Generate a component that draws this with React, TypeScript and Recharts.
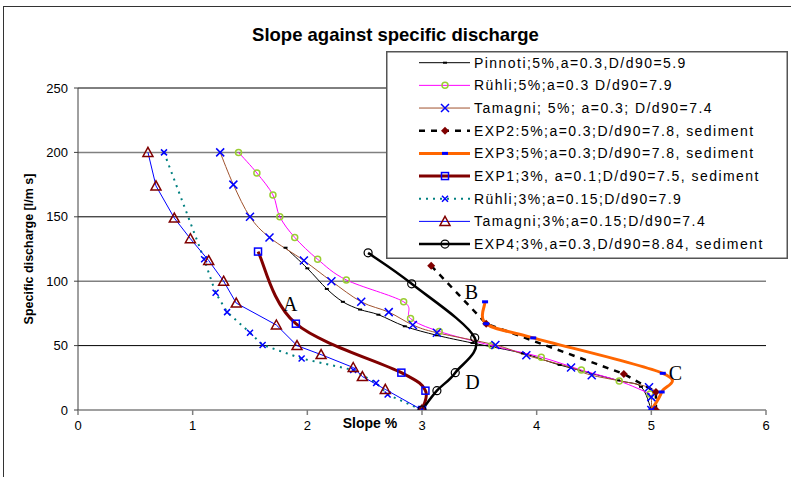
import React from "react";
import { LineChart, Line, XAxis, YAxis, ReferenceLine, ReferenceDot, Legend } from "recharts";

// slope % / specific discharge pairs
const pinnoti5 = [[1.81, 126], [2.0, 110], [2.17, 94], [2.31, 84], [2.46, 78], [2.62, 74], [2.85, 65], [3.13, 58], [3.44, 52], [3.88, 44], [4.2, 35], [4.71, 23], [4.91, 18], [5.0, 0]];
const ruhli5 = [[1.4, 200], [1.56, 184], [1.7, 167], [1.76, 150], [1.89, 134], [2.09, 117], [2.34, 101], [2.84, 84], [2.9, 71], [3.15, 61], [3.61, 50], [4.04, 41], [4.39, 31], [4.72, 22.5], [4.99, 12.5]];
const tamagni5 = [[1.24, 200], [1.355, 175], [1.5, 150], [1.67, 134], [1.97, 116], [2.21, 100], [2.47, 84], [2.71, 76], [2.92, 66], [3.13, 60], [3.64, 50.5], [3.91, 42.5], [4.3, 33], [4.48, 27], [4.98, 17.6], [5.0, 10], [5.0, 0]];
const exp2 = [[3.08, 112], [3.56, 67], [4.76, 28], [5.04, 14], [5.04, 0]];
const exp3 = [[3.55, 84], [3.56, 67], [3.97, 56], [5.1, 28.5], [5.09, 14], [5.0, 0]];
const exp1 = [[1.57, 123], [1.9, 67], [2.82, 29], [3.03, 15], [3.0, 0]];
const ruhli3 = [[0.75, 200], [1.1, 117], [1.2, 91], [1.3, 76], [1.5, 60], [1.61, 50.5], [1.95, 40], [2.4, 31], [2.6, 21], [2.7, 12], [3.0, 0]];
const tamagni3 = [[0.61, 200], [0.68, 174], [0.84, 149], [0.98, 133], [1.14, 116], [1.27, 100], [1.38, 83], [1.73, 66], [1.91, 50], [2.12, 43], [2.4, 33], [2.48, 26], [2.68, 16], [3.0, 0]];
const exp4 = [[2.53, 122], [2.91, 98], [3.46, 56], [3.29, 29], [3.13, 15], [3.0, 0]];

const xTicks = [0, 1, 2, 3, 4, 5, 6];
const yTicks = [0, 50, 100, 150, 200, 250];
const gridValues = [50, 100, 150, 200, 250];

// annotation letters [label, slope, discharge]
const notes: [string, number, number][] = [["A", 1.85, 82], ["B", 3.43, 92], ["C", 5.21, 29], ["D", 3.44, 22]];

const toPts = (arr: number[][]) => arr.map(([x, y]) => ({ x, y }));

// Excel-like smoothing: uniform Catmull-Rom written as cubic beziers
function smoothCurve(context: any) {
  let pts: [number, number][] = [];
  return {
    areaStart() {},
    areaEnd() {},
    lineStart() {
      pts = [];
    },
    lineEnd() {
      const n = pts.length;
      if (!n) return;
      context.moveTo(pts[0][0], pts[0][1]);
      for (let i = 0; i < n - 1; i++) {
        const p0 = pts[Math.max(0, i - 1)];
        const p1 = pts[i];
        const p2 = pts[i + 1];
        const p3 = pts[Math.min(n - 1, i + 2)];
        context.bezierCurveTo(
          p1[0] + (p2[0] - p0[0]) / 6,
          p1[1] + (p2[1] - p0[1]) / 6,
          p2[0] - (p3[0] - p1[0]) / 6,
          p2[1] - (p3[1] - p1[1]) / 6,
          p2[0],
          p2[1]
        );
      }
    },
    point(x: number, y: number) {
      pts.push([+x, +y]);
    },
  };
}

type Kind = "tick" | "ring" | "cross" | "diamond" | "bluedash" | "square" | "smallx" | "triangle" | "circle";

const series: { name: string; data: number[][]; color: string; width: number; dash?: string; smooth: boolean; marker: Kind }[] = [
  { name: "Pinnoti;5%,a=0.3,D/d90=5.9", data: pinnoti5, color: "#000000", width: 1, smooth: true, marker: "tick" },
  { name: "Rühli;5%;a=0.3 D/d90=7.9", data: ruhli5, color: "#ff00ff", width: 1, smooth: true, marker: "ring" },
  { name: "Tamagni; 5%; a=0.3; D/d90=7.4", data: tamagni5, color: "#a0522d", width: 1, smooth: true, marker: "cross" },
  { name: "EXP2:5%;a=0.3;D/d90=7.8, sediment", data: exp2, color: "#000000", width: 2.5, dash: "6 6", smooth: false, marker: "diamond" },
  { name: "EXP3;5%;a=0.3;D/d90=7.8, sediment", data: exp3, color: "#ff6600", width: 3, smooth: true, marker: "bluedash" },
  { name: "EXP1;3%, a=0.1;D/d90=7.5, sediment", data: exp1, color: "#800000", width: 3, smooth: true, marker: "square" },
  { name: "Rühli;3%;a=0.15;D/d90=7.9", data: ruhli3, color: "#008080", width: 2, dash: "2 5", smooth: false, marker: "smallx" },
  { name: "Tamagni;3%;a=0.15;D/d90=7.4", data: tamagni3, color: "#0000ff", width: 1, smooth: false, marker: "triangle" },
  { name: "EXP4;3%,a=0.3,D/d90=8.84, sediment", data: exp4, color: "#000000", width: 2.5, smooth: true, marker: "circle" },
];

const SANS = "'Liberation Sans', Arial, sans-serif";

function Marker({ kind, cx, cy }: { kind: Kind; cx: number; cy: number }) {
  if (cx == null || cy == null) return null;
  switch (kind) {
    case "tick":
      return <rect x={cx - 2} y={cy - 1} width={4} height={2} fill="#000" />;
    case "ring":
      return <circle cx={cx} cy={cy} r={3} fill="none" stroke="#9acd32" strokeWidth={1.5} />;
    case "cross":
      return <path d={`M${cx - 4},${cy - 4}L${cx + 4},${cy + 4}M${cx + 4},${cy - 4}L${cx - 4},${cy + 4}`} stroke="#0000ff" strokeWidth={1.5} />;
    case "diamond":
      return <path d={`M${cx},${cy - 4}L${cx + 4},${cy}L${cx},${cy + 4}L${cx - 4},${cy}Z`} fill="#800000" />;
    case "bluedash":
      return <rect x={cx - 3} y={cy - 1.5} width={6} height={3} fill="#0000ff" />;
    case "square":
      return <rect x={cx - 3.5} y={cy - 3.5} width={7} height={7} fill="none" stroke="#0000ff" strokeWidth={1.5} />;
    case "smallx":
      return <path d={`M${cx - 3},${cy - 3}L${cx + 3},${cy + 3}M${cx + 3},${cy - 3}L${cx - 3},${cy + 3}`} stroke="#0000ff" strokeWidth={1.5} />;
    case "triangle":
      return <path d={`M${cx},${cy - 5}L${cx + 5},${cy + 4}L${cx - 5},${cy + 4}Z`} fill="none" stroke="#800000" strokeWidth={1.5} />;
    case "circle":
      return <circle cx={cx} cy={cy} r={4} fill="none" stroke="#000" strokeWidth={1.2} />;
  }
  return null;
}

function LegendBox() {
  return (
    <svg width={402} height={208} style={{ display: "block" }}>
      <rect x={0.75} y={0.75} width={400.5} height={206.5} fill="#fff" stroke="#555" strokeWidth={1.5} />
      {series.map((s, i) => {
        const cy = 11.7 + i * 22.67;
        return (
          <g key={s.name}>
            <line x1={33} x2={84} y1={cy} y2={cy} stroke={s.color} strokeWidth={s.width} strokeDasharray={s.dash} />
            <Marker kind={s.marker} cx={59} cy={cy} />
            <text x={88} y={cy} dy="0.36em" fontFamily={SANS} fontSize={14} letterSpacing={1.45} fill="#000">
              {s.name}
            </text>
          </g>
        );
      })}
    </svg>
  );
}

export default function App() {
  return (
    <div style={{ position: "fixed", left: 0, top: 0, width: 791, height: 477, overflow: "hidden", background: "#fff" }}>
      <div style={{ position: "absolute", left: 3, top: 6, width: 820, height: 500, border: "1.5px solid #333" }} />
      <div
        style={{
          position: "absolute",
          left: 0,
          width: 791,
          top: 24,
          textAlign: "center",
          fontFamily: SANS,
          fontWeight: "bold",
          fontSize: 18.5,
          lineHeight: "22px",
        }}
      >
        Slope against specific discharge
      </div>
      <div style={{ position: "absolute", left: 0, top: 0 }}>
        <LineChart width={791} height={477} margin={{ top: 88, right: 25, bottom: 37, left: 38 }}>
          {gridValues.map((v, i) => (
            <ReferenceLine key={v} y={v} stroke={i % 2 === 0 ? "#000" : "#808080"} strokeWidth={i % 2 === 0 ? 1 : 1.5} ifOverflow="extendDomain" />
          ))}
          <XAxis
            type="number"
            dataKey="x"
            domain={[0, 6]}
            ticks={xTicks}
            allowDataOverflow
            height={30}
            stroke="#808080"
            strokeWidth={1.5}
            tickSize={5}
            tickMargin={6}
            tick={{ fill: "#000", fontSize: 13, fontFamily: SANS }}
            label={{
              content: () => (
                <text x={370} y={428} fontFamily={SANS} fontWeight="bold" fontSize={14} textAnchor="middle" fill="#000">
                  Slope %
                </text>
              ),
            }}
          />
          <YAxis
            type="number"
            dataKey="y"
            domain={[0, 250]}
            ticks={yTicks}
            allowDataOverflow
            width={40}
            stroke="#404040"
            tickSize={4}
            tickMargin={6}
            tick={{ fill: "#000", fontSize: 13, fontFamily: SANS }}
            label={{
              content: () => (
                <text x={33} y={249} transform="rotate(-90 33 249)" fontFamily={SANS} fontWeight="bold" fontSize={12.5} textAnchor="middle" fill="#000">
                  Specific discharge [l/m s]
                </text>
              ),
            }}
          />
          {series.map((s) => (
            <Line
              key={s.name}
              name={s.name}
              data={toPts(s.data)}
              dataKey="y"
              type={(s.smooth ? smoothCurve : "linear") as any}
              stroke={s.color}
              strokeWidth={s.width}
              strokeDasharray={s.dash}
              isAnimationActive={false}
              activeDot={false}
              dot={(p: any) => <Marker key={`${s.name}-${p.index}`} kind={s.marker} cx={p.cx} cy={p.cy} />}
            />
          ))}
          {notes.map(([t, x, y]) => (
            <ReferenceDot
              key={t}
              x={x}
              y={y}
              r={0}
              fill="none"
              stroke="none"
              label={{ value: t, position: "center", fontFamily: "'Liberation Serif', 'Times New Roman', serif", fontSize: 20, fill: "#000" }}
            />
          ))}
          <Legend
            layout="vertical"
            align="center"
            verticalAlign="middle"
            wrapperStyle={{ left: 386, top: 51, width: 402, height: 208 }}
            content={() => <LegendBox />}
          />
        </LineChart>
      </div>
    </div>
  );
}
